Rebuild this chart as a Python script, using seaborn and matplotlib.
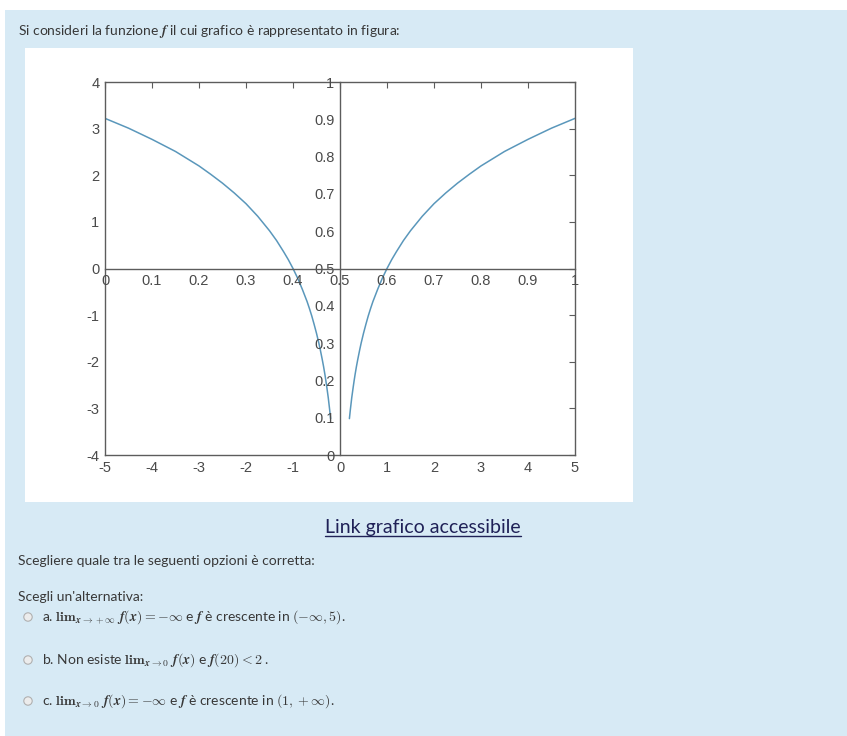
import matplotlib.pyplot as plt
import matplotlib.patches as mpatches
import seaborn as sns

# Curve points (left and right branch)
x_left = [-5, -4.5, -4, -3.5, -3, -2.75, -2.5, -2.25, -2, -1.75, -1.5, -1.35, -1.2, -1.1,
          -1, -0.9, -0.8, -0.75, -0.7, -0.65, -0.6, -0.55, -0.5, -0.45, -0.42, -0.38,
          -0.35, -0.32, -0.3, -0.28, -0.25, -0.22, -0.2]
y_left = [3.22, 3.01, 2.77, 2.51, 2.20, 2.02, 1.83, 1.62, 1.39, 1.12, 0.81, 0.60, 0.36, 0.19,
          0.0, -0.21, -0.45, -0.58, -0.71, -0.86, -1.02, -1.20, -1.39, -1.60, -1.74, -1.94,
          -2.10, -2.28, -2.41, -2.55, -2.77, -3.03, -3.22]
x_right = [0.2, 0.22, 0.25, 0.28, 0.3, 0.32, 0.35, 0.38, 0.42, 0.45, 0.5, 0.55, 0.6, 0.65,
           0.7, 0.75, 0.8, 0.9, 1, 1.1, 1.2, 1.35, 1.5, 1.75, 2, 2.25, 2.5, 2.75,
           3, 3.5, 4, 4.5, 5]
y_right = [-3.22, -3.03, -2.77, -2.55, -2.41, -2.28, -2.10, -1.94, -1.74, -1.60, -1.39, -1.20,
           -1.02, -0.86, -0.71, -0.58, -0.45, -0.21, 0.0, 0.19, 0.36, 0.60, 0.81, 1.12, 1.39,
           1.62, 1.83, 2.02, 2.20, 2.51, 2.77, 3.01, 3.22]

# Tick values for outer box axes and inner crossing axes
outer_xticks = [-5, -4, -3, -2, -1, 0, 1, 2, 3, 4, 5]
outer_yticks = [-4, -3, -2, -1, 0, 1, 2, 3, 4]
inner_ticks = [0, 0.1, 0.2, 0.3, 0.4, 0.5, 0.6, 0.7, 0.8, 0.9, 1]
inner_labels = ['0', '0.1', '0.2', '0.3', '0.4', '0.5', '0.6', '0.7', '0.8', '0.9', '1']

# Page texts
intro = "Si consideri la funzione $\\boldsymbol{f}$ il cui grafico è rappresentato in figura:"
link_text = "Link grafico accessibile"
question = "Scegliere quale tra le seguenti opzioni è corretta:"
choose = "Scegli un'alternativa:"
options = [
    r"a. $\mathbf{lim}_{\boldsymbol{x\rightarrow+\infty}}\ \boldsymbol{f(x)}=-\infty$ e $\boldsymbol{f}$ è crescente in $(-\infty,5)$.",
    r"b. Non esiste $\mathbf{lim}_{\boldsymbol{x\rightarrow0}}\ \boldsymbol{f(x)}$ e $\boldsymbol{f(20)}<\mathbf{2}$ .",
    r"c. $\mathbf{lim}_{\boldsymbol{x\rightarrow0}}\ \boldsymbol{f(x)}=-\infty$ e $\boldsymbol{f}$ è crescente in $(1,+\infty)$.",
]

sns.set_style("white")
plt.rcParams['font.family'] = ['Lato', 'DejaVu Sans']
plt.rcParams['mathtext.fontset'] = 'cm'

W, H = 847, 736
fig = plt.figure(figsize=(W / 100, H / 100), dpi=100)
fig.patch.set_facecolor('white')

# background "page" axes in pixel coordinates
bg = fig.add_axes([0, 0, 1, 1], zorder=-5)
bg.set_xlim(0, W)
bg.set_ylim(H, 0)
bg.axis('off')
bg.add_patch(mpatches.Rectangle((5, 10), W - 5, H - 10, facecolor='#d7eaf5', edgecolor='none'))
bg.add_patch(mpatches.Rectangle((25, 48), 608, 454, facecolor='white', edgecolor='none'))

txt = '#383838'
bg.text(18, 32, intro, fontsize=10, color=txt, va='center')
link = bg.text(423, 528, link_text, fontsize=14, color='#1f2157', va='center', ha='center')
bg.text(18, 561, question, fontsize=10, color=txt, va='center')
bg.text(18, 597, choose, fontsize=10, color=txt, va='center')
for opt, yy in zip(options, [617, 660, 701]):
    bg.add_patch(mpatches.Circle((28, yy), 4.2, facecolor='#ececec', edgecolor='#b0b0b0', lw=0.8))
    bg.text(42, yy, opt, fontsize=10, color=txt, va='center')

# underline for the link
fig.canvas.draw()
bb = link.get_window_extent().transformed(bg.transData.inverted())
bg.plot([bb.x0, bb.x1], [bb.y0 - 1, bb.y0 - 1], color='#1f2157', lw=1)

# chart axes
pos = [105 / W, 1 - 455 / H, 470 / W, 373 / H]
ax = fig.add_axes(pos)
ax.set_facecolor('white')
curve_col = '#5a97bb'
sns.lineplot(x=x_left, y=y_left, ax=ax, color=curve_col, lw=1.1, sort=False, estimator=None)
sns.lineplot(x=x_right, y=y_right, ax=ax, color=curve_col, lw=1.1, sort=False, estimator=None)
ax.set_xlim(-5, 5)
ax.set_ylim(-4, 4)
ax.set_xticks(outer_xticks)
ax.set_yticks(outer_yticks)
ax.set_xticklabels([str(v) for v in outer_xticks])
ax.set_yticklabels([str(v) for v in outer_yticks])
spine_col = '#5c5c5c'
for s in ax.spines.values():
    s.set_color(spine_col)
    s.set_linewidth(1)
ax.tick_params(direction='in', length=4, width=0.8, color=spine_col, top=True, right=True,
               labelsize=10.5, labelcolor='#4a4a4a', pad=4)
for lab in ax.get_xticklabels() + ax.get_yticklabels():
    lab.set_family('Liberation Sans')

# inner crossing axes
ax2 = fig.add_axes(pos, zorder=3)
ax2.patch.set_alpha(0)
ax2.set_xlim(0, 1)
ax2.set_ylim(0, 1)
ax2.spines['top'].set_visible(False)
ax2.spines['right'].set_visible(False)
ax2.spines['left'].set_position(('data', 0.5))
ax2.spines['bottom'].set_position(('data', 0.5))
for s in ['left', 'bottom']:
    ax2.spines[s].set_color(spine_col)
    ax2.spines[s].set_linewidth(1)
ax2.set_xticks(inner_ticks)
ax2.set_yticks(inner_ticks)
ax2.set_xticklabels(inner_labels)
ax2.set_yticklabels(inner_labels)
ax2.tick_params(direction='in', length=3.5, width=0.8, color=spine_col,
                labelsize=10.5, labelcolor='#4a4a4a', pad=4)
for lab in ax2.get_xticklabels() + ax2.get_yticklabels():
    lab.set_family('Liberation Sans')

fig.savefig('out.png', dpi=100)
